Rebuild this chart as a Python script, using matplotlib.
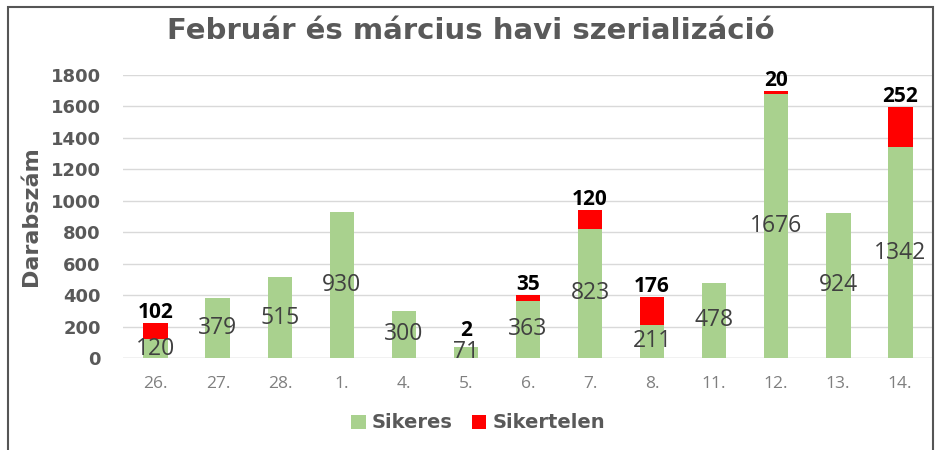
import matplotlib
matplotlib.use('Agg')
import matplotlib.pyplot as plt
import numpy as np
from matplotlib.patches import Rectangle

# adatok
napok = ['26.', '27.', '28.', '1.', '4.', '5.', '6.', '7.', '8.', '11.', '12.', '13.', '14.']
sikeres = [120, 379, 515, 930, 300, 71, 363, 823, 211, 478, 1676, 924, 1342]
sikertelen = [102, 0, 0, 0, 0, 2, 35, 120, 176, 0, 20, 0, 252]

zold = '#A9D18E'
piros = '#FF0000'
szurke = '#595959'

fig = plt.figure(figsize=(9.42, 4.5), dpi=100)
W, H = 942, 450
ax = fig.add_axes([123 / W, 1 - 358 / H, (933 - 123) / W, (358 - 75) / H])

x = np.arange(len(napok))
ax.bar(x, sikeres, width=0.4, color=zold, label='Sikeres', zorder=2)
ax.bar(x, sikertelen, width=0.4, bottom=sikeres, color=piros, label='Sikertelen', zorder=2)

# címkék
for i in range(len(napok)):
    ax.text(x[i], sikeres[i] / 2, str(sikeres[i]), ha='center', va='center',
            fontsize=16.5, color='#404040', family='Open Sans', zorder=3)
    if sikertelen[i] > 0:
        # a nagyon vékony piros sávnál kicsit feljebb, hogy ne lógjon rá a zöld címkére
        dy = 4 if sikertelen[i] < 10 else 0
        ax.annotate(str(sikertelen[i]), (x[i], sikeres[i] + sikertelen[i]),
                    xytext=(0, dy), textcoords='offset points', ha='center', va='bottom',
                    fontsize=15, fontweight='bold', color='black', family='Open Sans')

ax.set_xlim(-0.53, len(napok) - 0.47)
ax.set_ylim(0, 1800)
ax.set_yticks(range(0, 1801, 200))
ax.set_xticks(x)
ax.set_xticklabels(napok, family='Open Sans', fontsize=12.5, color='#7f7f7f')
for t in ax.get_yticklabels():
    t.set_fontweight('bold')
    t.set_fontsize(13)
    t.set_color(szurke)
ax.tick_params(axis='both', length=0)
ax.tick_params(axis='y', pad=16)
ax.tick_params(axis='x', pad=13)
ax.grid(axis='y', color='#d9d9d9', linewidth=1, zorder=0)
for s in ax.spines.values():
    s.set_visible(False)
ax.axhline(0, color='#d9d9d9', linewidth=1, zorder=1)

ax.set_ylabel('Darabszám', fontsize=16, fontweight='bold', color=szurke)
ax.yaxis.set_label_coords(-82 / 810, 0.5)

fig.text(471 / W, 1 - 31 / H, 'Február és március havi szerializáció', ha='center', va='center',
         fontsize=21, fontweight='bold', color=szurke)

leg = fig.legend(loc='center', bbox_to_anchor=(478 / W, 1 - 423 / H), ncol=2, frameon=False,
                 prop={'weight': 'bold', 'size': 14}, handlelength=0.75, handleheight=0.75,
                 columnspacing=1.0, handletextpad=0.3)
for t in leg.get_texts():
    t.set_color(szurke)

# keret
fig.patches.append(Rectangle((8 / W, -0.05), (933 - 8) / W, 1 - 7 / H + 0.05,
                             transform=fig.transFigure, fill=False, edgecolor='#555555',
                             linewidth=1.5))

fig.savefig('out.png', dpi=100)
